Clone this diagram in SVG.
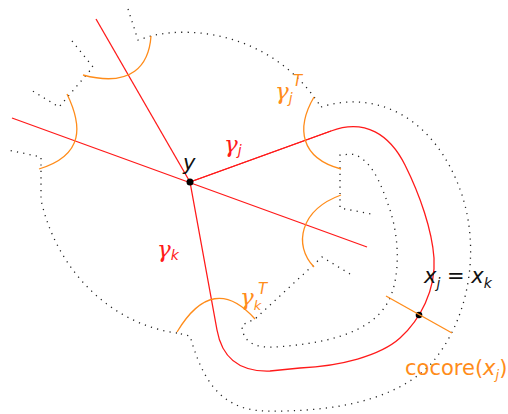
<svg xmlns="http://www.w3.org/2000/svg" width="508" height="414" viewBox="0 0 508 414">
<style>
.dot{fill:none;stroke:#222;stroke-width:1.3;stroke-dasharray:1.2 5.2}
.red{fill:none;stroke:#ff1a1a;stroke-width:1.3}
.org{fill:none;stroke:#ff8c1a;stroke-width:1.3}
.lbl{font-family:"DejaVu Sans",sans-serif}
.gam{font-family:"DejaVu Serif",serif;font-style:italic}
.it{font-style:italic}
</style>
<rect width="508" height="414" fill="#fff"/>
<g id="boundary">
<path class="dot" d="M128,9 L138,40 L151,36 C195,25 275,35 321,107"/>
<path class="dot" d="M321,107 C375,90 435,115 462,195 C480,250 470,320 430,365 C390,405 320,412 265,411 C215,410 200,370 190,336 L177,333"/>
<path class="dot" d="M177,333 C115,325 58,275 41,200 L41,157 L8,150"/>
<path class="dot" d="M72,41 L93,67 L59,107 L31,90"/>
<path class="dot" d="M350,274 L322,257 L255,319 L242,325 C242,345 260,348 275,347 C320,344 370,335 388,302 C400,280 400,240 390,210 C380,180 370,158 352,154 L340,155 L340,208 L371,214"/>
</g>
<g id="connectors">
<path class="red" d="M96,19 L190,182"/>
<path class="red" d="M12,118 L367,247"/>
<path class="red" d="M190,182 L331,131 C365,118 390,135 405,165 C420,195 432,230 434,258 C436,290 420,320 400,338 C380,356 340,366 300,368 L270,371 C240,372 222,358 217,330 Z"/>
<path class="red" stroke-width="1.7" d="M190,182 L331,131"/>
</g>
<g id="node-y">
<circle cx="190" cy="182" r="3.5" fill="#000"/>
<text class="lbl it" x="183" y="170" font-size="21" fill="#111">y</text>
</g>
<g id="node-x">
<circle cx="419" cy="315" r="3.3" fill="#000"/>
<text class="lbl" x="424" y="283" font-size="21" fill="#111"><tspan class="it">x</tspan><tspan class="it" font-size="14" dy="5">j</tspan><tspan dy="-5"> = </tspan><tspan class="it">x</tspan><tspan class="it" font-size="14" dy="5">k</tspan></text>
</g>
<g id="cuts">
<path class="org" d="M151,36 C149,65 132,88 83,75"/>
<path class="org" d="M67,94 C82,125 85,155 39,169"/>
<path class="org" d="M314,97 C296,128 300,158 341,169"/>
<path class="org" d="M341,195 C300,210 293,245 314,267"/>
<path class="org" d="M177,332 Q213,272 255,319"/>
<path class="org" d="M386,296 L452,333"/>
</g>
<g id="labels">
<text class="gam" x="224" y="152" font-size="23" fill="#ff1a1a">γ<tspan class="lbl it" font-size="14" dy="3">j</tspan></text>
<text class="gam" x="157" y="257" font-size="23" fill="#ff1a1a">γ<tspan class="lbl it" font-size="14" dy="3">k</tspan></text>
<text class="gam" x="275" y="99" font-size="23" fill="#ff8c1a">γ<tspan class="lbl it" font-size="14" dy="4">j</tspan></text>
<text class="lbl it" x="293" y="86" font-size="15" fill="#ff8c1a">T</text>
<text class="gam" x="240" y="305" font-size="23" fill="#ff8c1a">γ<tspan class="lbl it" font-size="13" dy="5">k</tspan></text>
<text class="lbl it" x="258" y="294" font-size="15" fill="#ff8c1a">T</text>
<text class="lbl" x="405" y="375" font-size="21" fill="#ff8c1a">cocore(<tspan class="it">x</tspan><tspan class="it" font-size="13" dy="4">j</tspan><tspan dy="-4">)</tspan></text>
</g>
</svg>
